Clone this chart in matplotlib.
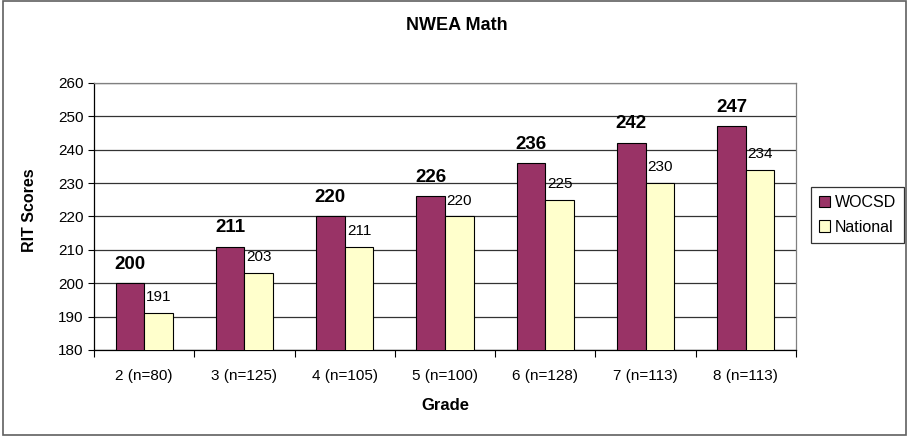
import matplotlib
matplotlib.use("Agg")
import matplotlib.pyplot as plt
import numpy as np
from matplotlib.patches import Rectangle

plt.rcParams['font.family'] = ['Liberation Sans', 'DejaVu Sans']

categories = ["2 (n=80)", "3 (n=125)", "4 (n=105)", "5 (n=100)", "6 (n=128)", "7 (n=113)", "8 (n=113)"]
wocsd = [200, 211, 220, 226, 236, 242, 247]
national = [191, 203, 211, 220, 225, 230, 234]
series_names = ["WOCSD", "National"]
yticks = [180, 190, 200, 210, 220, 230, 240, 250, 260]

W, H = 909, 437
fig = plt.figure(figsize=(W / 100, H / 100), dpi=100)
ax = fig.add_axes([94 / W, 1 - 350 / H, (796 - 94) / W, (350 - 83) / H])

x = np.arange(len(categories))
bw = 0.285
b1 = ax.bar(x - bw / 2, wocsd, bw, color="#993366", edgecolor="black", linewidth=0.8, label=series_names[0], zorder=3)
b2 = ax.bar(x + bw / 2, national, bw, color="#FFFFCC", edgecolor="black", linewidth=0.8, label=series_names[1], zorder=3)

for xi, v in zip(x, wocsd):
    ax.annotate(str(v), (xi - bw / 2, v), xytext=(0, 10.5), textcoords="offset points",
                ha="center", va="baseline", fontsize=13.5, fontweight="bold", zorder=4)
for xi, v in zip(x, national):
    ax.annotate(str(v), (xi + bw / 2, v), xytext=(0, 8.5), textcoords="offset points",
                ha="center", va="baseline", fontsize=11, zorder=4)

ax.set_ylim(180, 260)
ax.set_xlim(-0.5, len(categories) - 0.5)
ax.set_yticks(yticks)
ax.tick_params(axis="y", direction="out", length=4, labelsize=11, width=0.8)
ax.set_xticks(x)
ax.set_xticklabels(categories, fontsize=11)
ax.tick_params(axis="x", which="major", length=0, pad=14)
ax.set_xticks(np.arange(-0.5, len(categories)), minor=True)
ax.tick_params(axis="x", which="minor", direction="out", length=5, width=0.8)

ax.grid(axis="y", color="#333333", linewidth=0.9, zorder=0)
ax.set_axisbelow(True)
for s in ["top", "right"]:
    ax.spines[s].set_color("#808080")
    ax.spines[s].set_linewidth(0.9)
for s in ["left", "bottom"]:
    ax.spines[s].set_color("black")
    ax.spines[s].set_linewidth(0.9)

fig.text(457 / W, 1 - 25 / H, "NWEA Math", ha="center", va="center", fontsize=13, fontweight="bold")
fig.text(30 / W, 1 - 210 / H, "RIT Scores", ha="center", va="center", rotation=90, fontsize=11.5, fontweight="bold")
fig.text(445 / W, 1 - 405 / H, "Grade", ha="center", va="center", fontsize=12, fontweight="bold")

leg = ax.legend(loc="upper left", bbox_to_anchor=((811 - 94) / 702, (350 - 187) / 267),
                borderaxespad=0, frameon=True, fancybox=False, fontsize=11.5,
                handlelength=0.7, handleheight=0.7, handletextpad=0.3, labelspacing=0.6,
                borderpad=0.5)
leg.get_frame().set_edgecolor("black")
leg.get_frame().set_linewidth(0.9)

fig.patches.append(Rectangle((3 / W, 2 / H), 903 / W, 434 / H, transform=fig.transFigure,
                             fill=False, edgecolor="#606060", linewidth=1.2))

fig.savefig("out.png", dpi=100)
